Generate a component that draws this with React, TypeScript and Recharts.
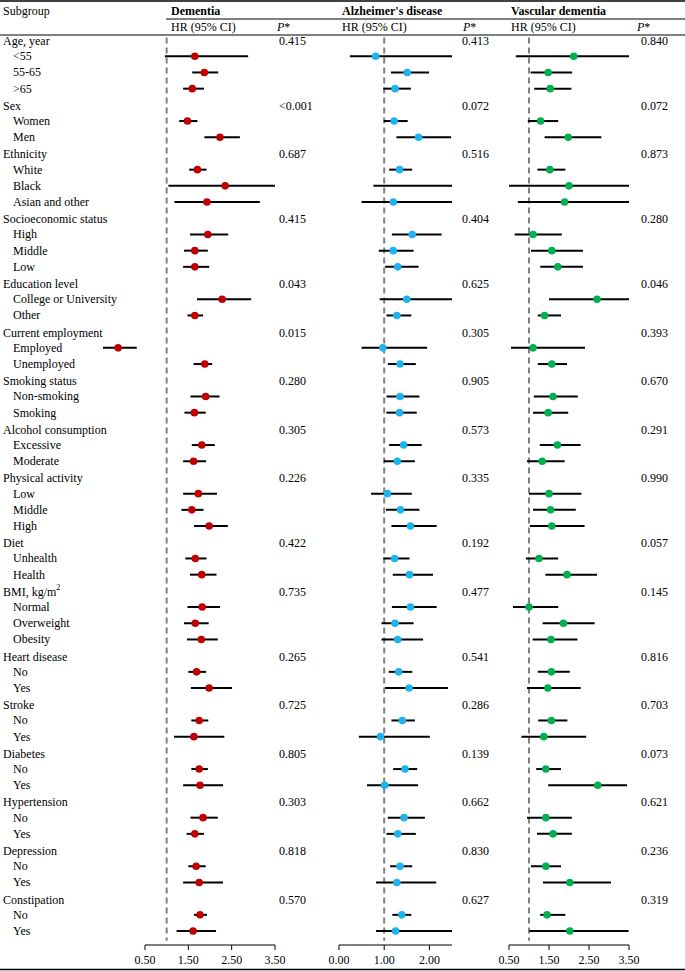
import React from "react";
import { ScatterChart, Scatter, XAxis, YAxis, ErrorBar, ReferenceLine } from "recharts";

const groups = [
  "Age, year", "Sex", "Ethnicity", "Socioeconomic status", "Education level",
  "Current employment", "Smoking status", "Alcohol consumption", "Physical activity",
  "Diet", "BMI, kg/m2", "Heart disease", "Stroke", "Diabetes", "Hypertension",
  "Depression", "Constipation",
];
const levels = [
  ["<55", "55-65", ">65"], ["Women", "Men"], ["White", "Black", "Asian and other"],
  ["High", "Middle", "Low"], ["College or University", "Other"], ["Employed", "Unemployed"],
  ["Non-smoking", "Smoking"], ["Excessive", "Moderate"], ["Low", "Middle", "High"],
  ["Unhealth", "Health"], ["Normal", "Overweight", "Obesity"], ["No", "Yes"], ["No", "Yes"],
  ["No", "Yes"], ["No", "Yes"], ["No", "Yes"], ["No", "Yes"],
];

const pDementia = ["0.415", "<0.001", "0.687", "0.415", "0.043", "0.015", "0.280", "0.305", "0.226", "0.422", "0.735", "0.265", "0.725", "0.805", "0.303", "0.818", "0.570"];
const pAlzheimer = ["0.413", "0.072", "0.516", "0.404", "0.625", "0.305", "0.905", "0.573", "0.335", "0.192", "0.477", "0.541", "0.286", "0.139", "0.662", "0.830", "0.627"];
const pVascular = ["0.840", "0.072", "0.873", "0.280", "0.046", "0.393", "0.670", "0.291", "0.990", "0.057", "0.145", "0.816", "0.703", "0.073", "0.621", "0.236", "0.319"];

// dementia (the "Employed" row sits left of the printed axis in the figure)
const demHR = [1.65, 1.87, 1.59, 1.48, 2.23, 1.71, 2.35, 1.93, 1.95, 1.65, 1.65, 2.28, 1.65, -0.12, 1.88, 1.9, 1.64, 1.81, 1.62, 1.73, 1.58, 1.98, 1.66, 1.81, 1.82, 1.66, 1.8, 1.69, 1.98, 1.75, 1.63, 1.75, 1.77, 1.84, 1.65, 1.68, 1.75, 1.77, 1.61];
const demLo = [0.96, 1.59, 1.38, 1.29, 1.87, 1.52, 1.04, 1.18, 1.54, 1.4, 1.38, 1.7, 1.48, -0.47, 1.62, 1.55, 1.41, 1.58, 1.38, 1.38, 1.34, 1.63, 1.43, 1.54, 1.48, 1.4, 1.47, 1.5, 1.56, 1.57, 1.17, 1.57, 1.38, 1.55, 1.46, 1.5, 1.38, 1.63, 1.23];
const demHi = [2.88, 2.19, 1.86, 1.71, 2.69, 1.92, 3.5, 3.15, 2.42, 1.95, 1.98, 2.95, 1.84, 0.31, 2.05, 2.22, 1.9, 2.11, 1.91, 2.16, 1.85, 2.41, 1.92, 2.15, 2.23, 1.97, 2.18, 1.91, 2.51, 1.96, 2.33, 1.95, 2.3, 2.18, 1.86, 1.9, 2.3, 1.93, 2.14];

// Alzheimer's disease (CI ends cut at the axis limits, as drawn)
const adHR = [0.81, 1.51, 1.24, 1.22, 1.76, 1.34, 2.7, 1.2, 1.62, 1.2, 1.3, 1.5, 1.28, 0.97, 1.35, 1.35, 1.34, 1.43, 1.29, 1.07, 1.36, 1.58, 1.23, 1.56, 1.58, 1.24, 1.3, 1.32, 1.55, 1.4, 0.92, 1.46, 1.01, 1.44, 1.3, 1.35, 1.28, 1.39, 1.25];
const adLo = [0.24, 1.15, 0.98, 0.99, 1.27, 1.11, 0.76, 0.5, 1.17, 0.88, 1.02, 0.9, 1.05, 0.5, 1.08, 1.05, 1.05, 1.11, 0.99, 0.71, 1.04, 1.16, 0.98, 1.19, 1.17, 0.94, 0.94, 1.1, 1.02, 1.16, 0.44, 1.2, 0.62, 1.08, 1.05, 1.13, 0.82, 1.18, 0.82];
const adHi = [2.5, 1.99, 1.59, 1.52, 2.48, 1.62, 2.5, 2.5, 2.27, 1.65, 1.76, 2.5, 1.6, 1.95, 1.7, 1.78, 1.72, 1.83, 1.68, 1.61, 1.78, 2.16, 1.56, 2.08, 2.16, 1.65, 1.86, 1.62, 2.41, 1.68, 2.01, 1.73, 1.75, 1.9, 1.7, 1.62, 2.15, 1.6, 2.5];

// vascular dementia
const vdHR = [2.12, 1.48, 1.53, 1.29, 1.98, 1.52, 2.0, 1.89, 1.1, 1.57, 1.72, 2.7, 1.39, 1.1, 1.57, 1.6, 1.48, 1.71, 1.33, 1.5, 1.54, 1.57, 1.25, 1.95, 1.0, 1.86, 1.55, 1.56, 1.47, 1.56, 1.37, 1.42, 2.72, 1.42, 1.6, 1.42, 2.02, 1.45, 2.02];
const vdLo = [0.67, 1.04, 1.13, 0.97, 1.39, 1.21, 0.5, 0.72, 0.64, 1.05, 1.28, 1.5, 1.22, 0.55, 1.22, 1.12, 1.1, 1.27, 0.95, 1.0, 1.1, 1.02, 0.92, 1.41, 0.6, 1.34, 1.09, 1.22, 0.95, 1.23, 0.81, 1.18, 1.48, 0.95, 1.2, 1.05, 1.35, 1.28, 1.01];
const vdHi = [3.5, 2.08, 2.06, 1.73, 2.81, 1.91, 3.5, 3.5, 1.82, 2.35, 2.35, 3.5, 1.8, 2.4, 1.95, 2.22, 1.98, 2.29, 1.89, 2.31, 2.17, 2.39, 1.73, 2.7, 1.73, 2.64, 2.21, 2.02, 2.29, 1.96, 2.43, 1.8, 3.45, 2.07, 2.07, 1.8, 3.05, 1.91, 3.49];

const demTicks = [0.5, 1.5, 2.5, 3.5];
const adTicks = [0, 1, 2];
const vdTicks = [0.5, 1.5, 2.5, 3.5];

type Row = { label: string; header: boolean; group: number };
const rows: Row[] = [];
const subRows: number[] = [];
groups.forEach((g, gi) => {
  rows.push({ label: g, header: true, group: gi });
  levels[gi].forEach((l) => {
    subRows.push(rows.length);
    rows.push({ label: l, header: false, group: gi });
  });
});
const allRows = rows.map((_, i) => i);
const headerRows = allRows.filter((i) => rows[i].header);

const series = (hr: number[], lo: number[], hi: number[]) =>
  hr.map((h, k) => ({ row: subRows[k], hr: h, err: [h - lo[k], hi[k] - h] }));

const yDomain: [number, number] = [-0.25, 55.86];
const FONT = '"Liberation Serif", "Times New Roman", serif';
const HEADER_DY = 1;

const LabelTick = (props: any) => {
  const r = rows[props.payload.value];
  if (!r) return <g />;
  const x = r.header ? 3 : 13;
  const y = props.y + (r.header ? HEADER_DY : 0);
  if (r.label === "BMI, kg/m2") {
    return (
      <text x={x} y={y} dominantBaseline="central" fontSize={12} fill="#000">
        BMI, kg/m<tspan fontSize={8} dy={-5}>2</tspan>
      </text>
    );
  }
  return (
    <text x={x} y={y} dominantBaseline="central" fontSize={12} fill="#000">
      {r.label}
    </text>
  );
};

const makePTick = (vals: string[]) => (props: any) => {
  const r = rows[props.payload.value];
  return (
    <text x={props.x} y={props.y + HEADER_DY} dominantBaseline="central" textAnchor="start" fontSize={12} fill="#000">
      {r ? vals[r.group] : ""}
    </text>
  );
};

type PanelProps = {
  left: number;
  width: number;
  dataLeft: number;
  axisLeft: number;
  pWidth: number;
  pOffset: number;
  dataDomain: [number, number];
  axisDomain: [number, number];
  ticks: number[];
  data: any[];
  color: string;
  pvals: string[];
  labels?: boolean;
};

function Panel(props: PanelProps) {
  const { left, width, dataLeft, axisLeft, pWidth, pOffset, dataDomain, axisDomain, ticks, data, color, pvals, labels } = props;
  return (
    <>
      {/* marks */}
      <div style={{ position: "absolute", left, top: 0 }}>
        <ScatterChart width={width} height={971} margin={{ top: 36, right: 0, bottom: 0, left: labels ? 0 : dataLeft }}>
          {labels && (
            <YAxis
              yAxisId="lab"
              orientation="left"
              type="number"
              domain={yDomain}
              allowDataOverflow
              reversed
              ticks={allRows}
              interval={0}
              width={dataLeft}
              axisLine={false}
              tickLine={false}
              tick={LabelTick}
            />
          )}
          <YAxis
            yAxisId="p"
            orientation="right"
            type="number"
            dataKey="row"
            domain={yDomain}
            allowDataOverflow
            reversed
            ticks={headerRows}
            interval={0}
            width={pWidth}
            axisLine={false}
            tickLine={false}
            tickSize={0}
            tickMargin={pOffset}
            tick={makePTick(pvals)}
          />
          <XAxis
            type="number"
            dataKey="hr"
            domain={dataDomain}
            allowDataOverflow
            height={26}
            axisLine={false}
            tickLine={false}
            tick={false}
          />
          <ReferenceLine
            yAxisId="p"
            segment={[{ x: 1, y: -0.15 }, { x: 1, y: 55.6 }]}
            stroke="#808080"
            strokeWidth={2}
            strokeDasharray="6 4"
          />
          <Scatter
            yAxisId="p"
            data={data}
            isAnimationActive={false}
            shape={(p: any) => <circle cx={p.cx} cy={p.cy} r={3.8} fill={color} />}
          >
            <ErrorBar dataKey="err" direction="x" width={0} stroke="#000" strokeWidth={2} isAnimationActive={false} />
          </Scatter>
        </ScatterChart>
      </div>
      {/* printed x axis */}
      <div style={{ position: "absolute", left, top: 0 }}>
        <ScatterChart width={width} height={971} margin={{ top: 36, right: pWidth, bottom: 0, left: axisLeft }}>
          <YAxis hide type="number" domain={[0, 1]} allowDataOverflow />
          <XAxis
            type="number"
            dataKey="hr"
            domain={axisDomain}
            ticks={ticks}
            allowDataOverflow
            interval={0}
            height={26}
            tickSize={5}
            tickMargin={5}
            tickFormatter={(v: number) => v.toFixed(2)}
            axisLine={{ stroke: "#000", strokeWidth: 1 }}
            tickLine={{ stroke: "#000", strokeWidth: 1 }}
            tick={{ fill: "#000", fontSize: 12 }}
          />
        </ScatterChart>
      </div>
    </>
  );
}

export default function App() {
  return (
    <div
      style={{
        position: "absolute",
        left: 0,
        top: 0,
        width: 685,
        height: 971,
        background: "#fff",
        fontFamily: FONT,
        overflow: "hidden",
      }}
    >
      <Panel left={0} width={320} dataLeft={145 - 1.1 * (130 / 3)} axisLeft={145} pWidth={45} pOffset={4}
        dataDomain={[-0.6, 3.5]} axisDomain={[0.5, 3.5]} ticks={demTicks}
        data={series(demHR, demLo, demHi)} color="#C00000" pvals={pDementia} labels />
      <Panel left={320} width={180} dataLeft={19} axisLeft={19} pWidth={48} pOffset={10}
        dataDomain={[0, 2.5]} axisDomain={[0, 2.5]} ticks={adTicks}
        data={series(adHR, adLo, adHi)} color="#1DB3EF" pvals={pAlzheimer} />
      <Panel left={490} width={195} dataLeft={19} axisLeft={19} pWidth={56} pOffset={12}
        dataDomain={[0.5, 3.5]} axisDomain={[0.5, 3.5]} ticks={vdTicks}
        data={series(vdHR, vdLo, vdHi)} color="#00B050" pvals={pVascular} />

      {/* table header and rules */}
      <svg width={685} height={971} style={{ position: "absolute", left: 0, top: 0, pointerEvents: "none" }}>
        <line x1={0} x2={685} y1={1} y2={1} stroke="#000" strokeWidth={1.5} />
        <text x={3} y={10.5} dominantBaseline="central" fontSize={12}>Subgroup</text>
        <text x={171} y={10.5} dominantBaseline="central" fontSize={12} fontWeight="bold">Dementia</text>
        <text x={342} y={10.5} dominantBaseline="central" fontSize={12} fontWeight="bold">Alzheimer's disease</text>
        <text x={511} y={10.5} dominantBaseline="central" fontSize={12} fontWeight="bold">Vascular dementia</text>
        <line x1={166} x2={685} y1={19} y2={19} stroke="#000" strokeWidth={1} />
        <text x={171} y={27} dominantBaseline="central" fontSize={12}>HR (95% CI)</text>
        <text x={342} y={27} dominantBaseline="central" fontSize={12}>HR (95% CI)</text>
        <text x={511} y={27} dominantBaseline="central" fontSize={12}>HR (95% CI)</text>
        <text x={277} y={27} dominantBaseline="central" fontSize={12}><tspan fontStyle="italic">P</tspan>*</text>
        <text x={463} y={27} dominantBaseline="central" fontSize={12}><tspan fontStyle="italic">P</tspan>*</text>
        <text x={637} y={27} dominantBaseline="central" fontSize={12}><tspan fontStyle="italic">P</tspan>*</text>
        <line x1={0} x2={685} y1={35} y2={35} stroke="#000" strokeWidth={1} />
        <line x1={0} x2={685} y1={969.5} y2={969.5} stroke="#000" strokeWidth={1.5} />
      </svg>
    </div>
  );
}
